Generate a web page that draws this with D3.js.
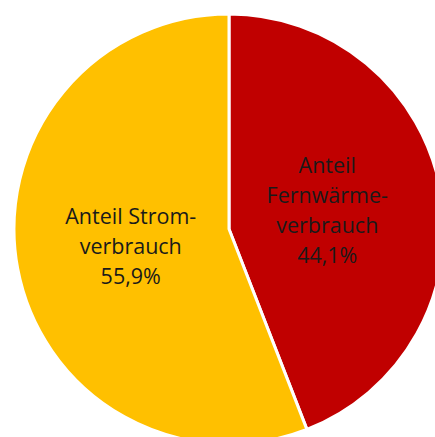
<!DOCTYPE html>
<html>
<head>
<meta charset="utf-8">
<script src="https://cdn.jsdelivr.net/npm/d3@7"></script>
<style>
  body { margin: 0; background: #fff; }
  svg { display: block; }
</style>
</head>
<body>
<script>
var svgWidth = 435, svgHeight = 437;

// data
var categories = ['Fernwärme', 'Strom'];
var shares = [44.1, 55.9];
var labels = [
    ['Anteil', 'Fernwärme-', 'verbrauch', '44,1%'],
    ['Anteil Strom-', 'verbrauch', '55,9%']
];
var colors = ['#C00000', '#FFC000'];

var cx = 229, cy = 229, radius = 215;

var data = categories.map(function(c, i) {
    return { name: c, value: shares[i], lines: labels[i] };
});

var svg = d3.select('body')
    .append('svg')
    .attr('width', svgWidth)
    .attr('height', svgHeight);

var pie = d3.pie()
    .sort(null)
    .value(function(d) { return d.value; });

var arc = d3.arc()
    .innerRadius(0)
    .outerRadius(radius);

var g = svg.append('g')
    .attr('transform', 'translate(' + cx + ',' + cy + ')');

var arcs = pie(data);

g.selectAll('path')
    .data(arcs)
    .enter()
    .append('path')
    .attr('d', arc)
    .attr('fill', function(d, i) { return colors[i]; })
    .attr('stroke', '#fff')
    .attr('stroke-width', 3)
    .attr('stroke-linejoin', 'round');

// labels sit around 100px out from the centre
var labelArc = d3.arc()
    .innerRadius(100)
    .outerRadius(100);

var lineHeight = 30;

g.selectAll('text.lbl')
    .data(arcs)
    .enter()
    .append('text')
    .attr('class', 'lbl')
    .attr('font-family', 'Open Sans, sans-serif')
    .attr('font-size', 21.5)
    .attr('fill', '#1a1a1a')
    .attr('text-anchor', 'middle')
    .each(function(d) {
        var c = labelArc.centroid(d);
        var n = d.data.lines.length;
        var t = d3.select(this);
        d.data.lines.forEach(function(l, j) {
            t.append('tspan')
                .attr('x', c[0])
                .attr('y', c[1] + (j - (n - 1) / 2) * lineHeight + 7)
                .text(l);
        });
    });
</script>
</body>
</html>
